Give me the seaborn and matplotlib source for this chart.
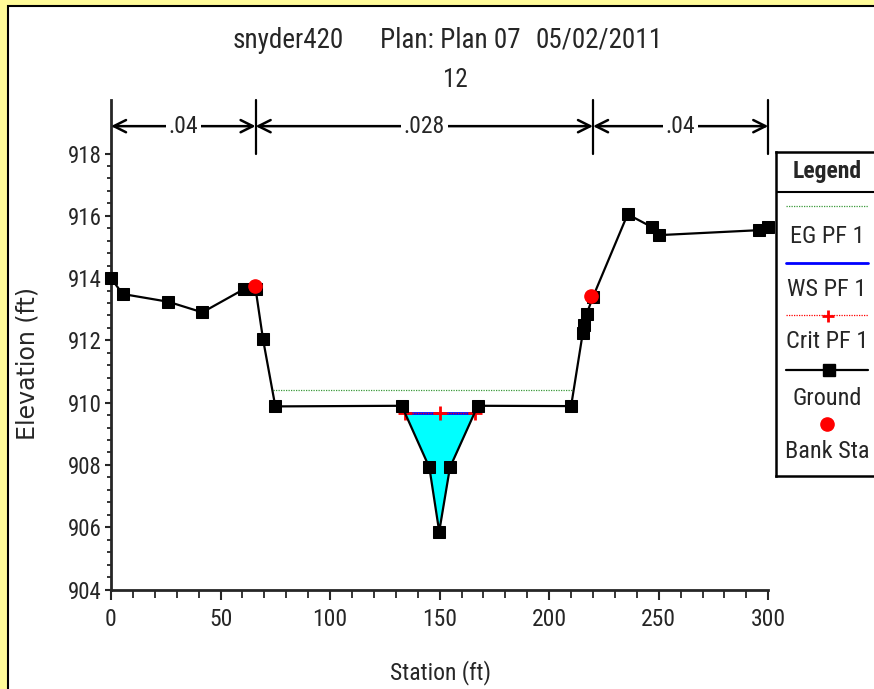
import numpy as np
import pandas as pd
import seaborn as sns
import matplotlib.pyplot as plt
from matplotlib.patches import Rectangle

# Cross section data
station = [0, 5.3, 26.2, 41.7, 60.8, 66.0, 69.4, 75.0, 132.7, 145.3, 149.8, 154.7,
           167.4, 210.0, 215.3, 216.0, 217.1, 220.0, 235.8, 247.1, 250.1, 295.8, 299.7]
elevation = [914.0, 913.49, 913.24, 912.90, 913.65, 913.65, 912.03, 909.88, 909.90, 907.92, 905.86, 907.92,
             909.90, 909.89, 912.23, 912.49, 912.85, 913.40, 916.05, 915.63, 915.38, 915.54, 915.63]

bank_sta = [65.5, 219.3]
bank_elev = [913.74, 913.44]

ws_elev = 909.66
ws_sta = [134.4, 166.0]
crit_sta = [134.4, 150.0, 166.0]
eg_elev = 910.41
eg_sta = [73.8, 210.8]

n_breaks = [0, 66, 220, 300]
n_values = ['.04', '.028', '.04']

ground = pd.DataFrame({'Station': station, 'Elevation': elevation})

sns.set_style('ticks')
narrow = ['Liberation Sans Narrow', 'Roboto Condensed', 'Barlow Semi Condensed', 'Liberation Sans']
plt.rcParams['font.family'] = narrow

W, H = 874, 689
fig = plt.figure(figsize=(W / 100, H / 100), dpi=100)
fig.patch.set_facecolor('#FFFB99')
# white panel with black border
fig.add_artist(Rectangle((8 / W, -0.01), 1, 1 - 6 / H + 0.01, transform=fig.transFigure,
                         facecolor='white', edgecolor='black', lw=1.5, zorder=0))

ax = fig.add_axes([111 / W, 1 - 589.5 / H, (768.3 - 111) / W, (589.5 - 100) / H])
ax.set_facecolor('none')

# water fill
st = np.array(station)
el = np.array(elevation)
ax.fill_between(st, el, ws_elev, where=el < ws_elev, interpolate=True,
                color='#00FFFF', lw=0, zorder=1)

# EG line
ax.plot(eg_sta, [eg_elev, eg_elev], color='#3a9a3a', ls=(0, (1, 1)), lw=0.9, zorder=2)
# WS line
ax.plot(ws_sta, [ws_elev, ws_elev], color='#0000FF', lw=2, zorder=3)
# Crit line
ax.plot(crit_sta, [ws_elev] * len(crit_sta), color='red', ls=(0, (1, 1)), lw=0.9,
        marker='+', ms=10, mew=2, zorder=4)

# ground
sns.lineplot(data=ground, x='Station', y='Elevation', sort=False, estimator=None,
             color='black', lw=1.6, marker='s', markersize=8, markeredgecolor='black',
             markerfacecolor='black', ax=ax, zorder=5, clip_on=False)
# bank stations
ax.plot(bank_sta, bank_elev, ls='none', marker='o', color='red', ms=9.5, zorder=6)

# manning's n bars
n_y = 918.88
for b in n_breaks[1:]:
    ax.plot([b, b], [918.0, 919.72], color='black', lw=1.6, clip_on=False, zorder=7)
for i, lab in enumerate(n_values):
    a, b = n_breaks[i], n_breaks[i + 1]
    mid = (a + b) / 2
    for end in (a, b):
        ax.annotate('', xy=(end, n_y), xytext=(mid, n_y),
                    arrowprops=dict(arrowstyle='->', lw=1.8, color='black',
                                    mutation_scale=22, shrinkA=0, shrinkB=0),
                    annotation_clip=False, zorder=7)
    ax.text(mid, n_y, lab, ha='center', va='center', fontsize=17,
            bbox=dict(facecolor='white', edgecolor='none', pad=2), zorder=8)

ax.set_xlim(0, 300)
ax.set_ylim(904, 919.72)
ax.set_xticks([0, 50, 100, 150, 200, 250, 300])
ax.set_xticks(np.arange(0, 301, 10), minor=True)
ax.set_yticks([904, 906, 908, 910, 912, 914, 916, 918])
ax.set_yticks(np.arange(904, 918.01, 0.4), minor=True)
ax.tick_params(axis='x', which='major', length=7, width=1.5, labelsize=17, pad=6)
ax.tick_params(axis='x', which='minor', length=5.5, width=1.3)
ax.tick_params(axis='y', which='major', length=4.5, width=1.5, labelsize=16.5, pad=2)
ax.tick_params(axis='y', which='minor', length=3, width=1.3)
for s in ('top', 'right'):
    ax.spines[s].set_visible(False)
for s in ('left', 'bottom'):
    ax.spines[s].set_linewidth(2)
ax.set_xlabel('')
ax.set_ylabel('')

fig.text(28 / W, 1 - 364 / H, 'Elevation (ft)', rotation=90, ha='center', va='center',
         fontsize=17, family=['DejaVu Sans'])
fig.text(440 / W, 1 - 673 / H, 'Station (ft)', ha='center', va='center', fontsize=17)

fig.text(288 / W, 1 - 40 / H, 'snyder420', ha='center', va='center', fontsize=19.5)
fig.text(450 / W, 1 - 40 / H, 'Plan: Plan 07', ha='center', va='center', fontsize=19.5)
fig.text(599 / W, 1 - 40 / H, '05/02/2011', ha='center', va='center', fontsize=19.5)
fig.text(455 / W, 1 - 80 / H, '12', ha='center', va='center', fontsize=18)

# legend box, drawn in pixel coordinates
lax = fig.add_axes([776 / W, 1 - 476 / H, 110 / W, (476 - 152) / H])
lax.set_xlim(776, 886)
lax.set_ylim(476, 152)
lax.set_xticks([])
lax.set_yticks([])
lax.set_facecolor('white')
for s in lax.spines.values():
    s.set_linewidth(1.8)
    s.set_color('black')
lax.axhline(192, color='black', lw=1.5)
lax.text(827, 171, 'Legend', ha='center', va='center', fontsize=17, fontweight='bold')
lax.plot([786, 868], [205.5, 205.5], color='#3a9a3a', ls=(0, (1, 1)), lw=0.9)
lax.text(827, 236, 'EG PF 1', ha='center', va='center', fontsize=17.5)
lax.plot([786, 868], [263, 263], color='#0000FF', lw=2)
lax.text(827, 289, 'WS PF 1', ha='center', va='center', fontsize=17.5)
lax.plot([786, 868], [315, 315], color='red', ls=(0, (1, 1)), lw=0.9)
lax.plot([828], [316], marker='+', color='red', ms=9, mew=2)
lax.text(827, 341, 'Crit PF 1', ha='center', va='center', fontsize=17.5)
lax.plot([786, 868], [370, 370], color='black', lw=1.6)
lax.plot([829], [370], marker='s', color='black', ms=8)
lax.text(827, 398, 'Ground', ha='center', va='center', fontsize=17.5)
lax.plot([827], [424], marker='o', color='red', ms=9.5)
lax.text(827, 451, 'Bank Sta', ha='center', va='center', fontsize=17.5)

fig.savefig('out.png', dpi=100, facecolor=fig.get_facecolor())
